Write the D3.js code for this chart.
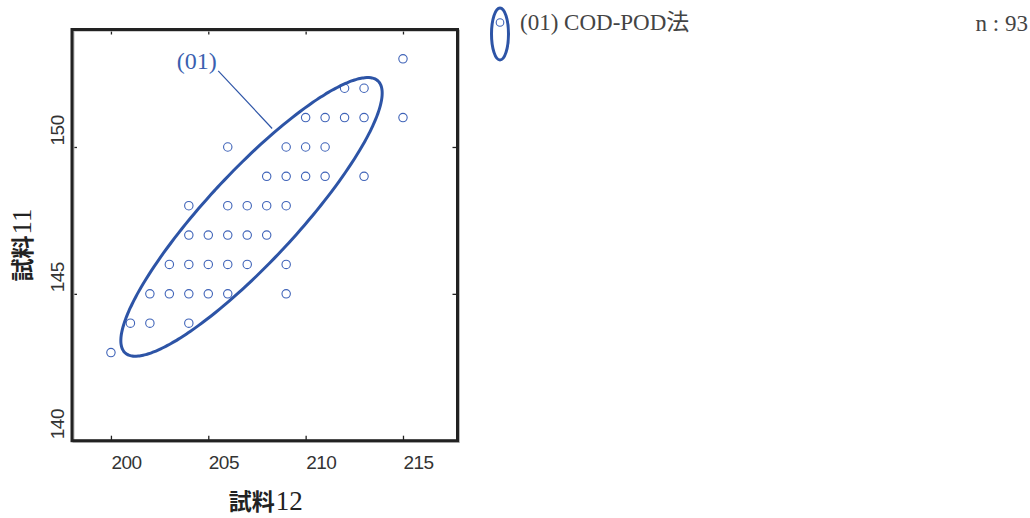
<!DOCTYPE html>
<html>
<head>
<meta charset="utf-8">
<script src="https://cdn.jsdelivr.net/npm/d3@7/dist/d3.min.js"></script>
<style>
  html, body { margin: 0; padding: 0; background: #fff; }
  svg { display: block; }
</style>
</head>
<body>
<svg id="chart" width="1030" height="518"></svg>
<script>
// 試料12 (x) vs 試料11 (y) — observed pairs
const xValues = [215, 212, 213, 210, 211, 212, 213, 215, 206, 209, 210, 211,
                 208, 209, 210, 211, 213, 204, 206, 207, 208, 209,
                 204, 205, 206, 207, 208, 203, 204, 205, 206, 207, 209,
                 202, 203, 204, 205, 206, 209, 201, 202, 204, 200];
const yValues = [153, 152, 152, 151, 151, 151, 151, 151, 150, 150, 150, 150,
                 149, 149, 149, 149, 149, 148, 148, 148, 148, 148,
                 147, 147, 147, 147, 147, 146, 146, 146, 146, 146, 146,
                 145, 145, 145, 145, 145, 145, 144, 144, 144, 143];

// Axis ticks
const xTicks = [200, 205, 210, 215];
const yTicks = [140, 145, 150];
const xDomain = [198, 217.8];
const yDomain = [140, 154];

// Probability ellipse (01): mean, standard deviations, correlation, radius (95%, 2 df)
const ellipseMean = [207.22, 147.62];
const ellipseSd = [2.742, 1.938];
const ellipseR = 0.8885;
const ellipseK = 2.4477;

// Callout for the ellipse label
const calloutText = "(01)";
const calloutFrom = [205.51, 152.59];
const calloutTo = [208.28, 150.63];
const calloutLabelAt = [203.38, 152.66];

const legendLabel = "(01) COD-POD法";
const sampleSize = 93;
const xTitle = ["試料", "12"];
const yTitle = ["試料", "11"];

const blue = "#2d54a6";
const pointBlue = "#3f63b8";

const svg = d3.select("#chart");
const plot = { left: 72, right: 457.5, top: 29.5, bottom: 440.7 };

const x = d3.scaleLinear().domain(xDomain).range([plot.left, plot.right]);
const y = d3.scaleLinear().domain(yDomain).range([plot.bottom, plot.top]);

const numFont = "'Liberation Sans', Arial, sans-serif";
const serifFont = "'Liberation Serif', 'Noto Sans CJK JP', serif";
const cjkFont = "'Noto Sans CJK JP', sans-serif";

// Axes: inward ticks on all four sides
const gB = svg.append("g").attr("transform", `translate(0,${plot.bottom})`)
  .call(d3.axisBottom(x).tickValues(xTicks).tickSizeInner(-5).tickSizeOuter(0));
const gT = svg.append("g").attr("transform", `translate(0,${plot.top})`)
  .call(d3.axisTop(x).tickValues(xTicks).tickSizeInner(-5).tickSizeOuter(0).tickFormat(""));
const gL = svg.append("g").attr("transform", `translate(${plot.left},0)`)
  .call(d3.axisLeft(y).tickValues(yTicks).tickSizeInner(-5).tickSizeOuter(0));
const gR = svg.append("g").attr("transform", `translate(${plot.right},0)`)
  .call(d3.axisRight(y).tickValues(yTicks).tickSizeInner(-5).tickSizeOuter(0).tickFormat(""));

[gB, gT, gL, gR].forEach(g => {
  g.select(".domain").remove();
  g.selectAll(".tick line").attr("stroke", "#222").attr("stroke-width", 1.3);
});

gB.selectAll(".tick text")
  .attr("y", 28.3).attr("dy", 0).attr("x", 0)
  .attr("text-anchor", "start")
  .attr("fill", "#333")
  .style("font-family", numFont).style("font-size", "19px")
  .style("letter-spacing", "-0.5px");

gL.selectAll(".tick text")
  .attr("x", 0).attr("y", 0).attr("dy", 0)
  .attr("transform", "translate(-8.5,-2) rotate(-90)")
  .attr("text-anchor", "start")
  .attr("fill", "#333")
  .style("font-family", numFont).style("font-size", "19px")
  .style("letter-spacing", "-0.5px");

// Frame with a faint shadow
svg.append("rect")
  .attr("x", plot.left + 1.5).attr("y", plot.top + 1.2)
  .attr("width", plot.right - plot.left).attr("height", plot.bottom - plot.top)
  .attr("fill", "none").attr("stroke", "#bbb").attr("stroke-width", 2);
svg.append("rect")
  .attr("x", plot.left).attr("y", plot.top)
  .attr("width", plot.right - plot.left).attr("height", plot.bottom - plot.top)
  .attr("fill", "none").attr("stroke", "#222").attr("stroke-width", 3);

// Data points
svg.append("g").selectAll("circle")
  .data(xValues.map((v, i) => [v, yValues[i]]))
  .join("circle")
  .attr("cx", d => x(d[0]))
  .attr("cy", d => y(d[1]))
  .attr("r", 4.2)
  .attr("fill", "none")
  .attr("stroke", pointBlue)
  .attr("stroke-width", 1.1);

// Ellipse outline from mean / sd / correlation
const steps = d3.range(0, 360, 2).map(a => a * Math.PI / 180);
const ellipsePts = steps.map(t => [
  ellipseMean[0] + ellipseK * ellipseSd[0] * Math.cos(t),
  ellipseMean[1] + ellipseK * ellipseSd[1] *
    (ellipseR * Math.cos(t) + Math.sqrt(1 - ellipseR * ellipseR) * Math.sin(t))
]);
svg.append("path")
  .attr("d", d3.line().x(d => x(d[0])).y(d => y(d[1])).curve(d3.curveCardinalClosed)(ellipsePts))
  .attr("fill", "none")
  .attr("stroke", blue)
  .attr("stroke-width", 3);

// Callout
svg.append("line")
  .attr("x1", x(calloutFrom[0])).attr("y1", y(calloutFrom[1]))
  .attr("x2", x(calloutTo[0])).attr("y2", y(calloutTo[1]))
  .attr("stroke", blue).attr("stroke-width", 1.2);
svg.append("text")
  .attr("x", x(calloutLabelAt[0])).attr("y", y(calloutLabelAt[1]))
  .attr("fill", "#3a5fb0")
  .style("font-family", serifFont).style("font-size", "24px")
  .text(calloutText);

// Axis titles: heavy kanji followed by serif digits
function title(sel, parts) {
  sel.attr("text-anchor", "middle").attr("fill", "#222");
  sel.append("tspan").style("font-family", cjkFont).style("font-weight", "700")
    .style("font-size", "23px").text(parts[0]);
  sel.append("tspan").style("font-family", serifFont).style("font-size", "27px")
    .attr("dx", 1).text(parts[1]);
}
title(svg.append("text")
  .attr("x", (plot.left + plot.right) / 2 + 1).attr("y", 510), xTitle);
title(svg.append("text")
  .attr("transform", "translate(31,245) rotate(-90)"), yTitle);

// Legend
const lg = svg.append("g");
lg.append("ellipse")
  .attr("cx", 500).attr("cy", 34).attr("rx", 8.5).attr("ry", 26)
  .attr("fill", "none").attr("stroke", blue).attr("stroke-width", 3);
lg.append("circle")
  .attr("cx", 500).attr("cy", 22.5).attr("r", 3.8)
  .attr("fill", "none").attr("stroke", pointBlue).attr("stroke-width", 1.1);
lg.append("text")
  .attr("x", 520).attr("y", 29.5)
  .attr("fill", "#444")
  .style("font-family", serifFont).style("font-size", "23px")
  .text(legendLabel);
lg.append("text")
  .attr("x", 1028).attr("y", 31)
  .attr("text-anchor", "end")
  .attr("fill", "#444")
  .style("font-family", serifFont).style("font-size", "23px")
  .text(`n : ${sampleSize}`);
</script>
</body>
</html>
